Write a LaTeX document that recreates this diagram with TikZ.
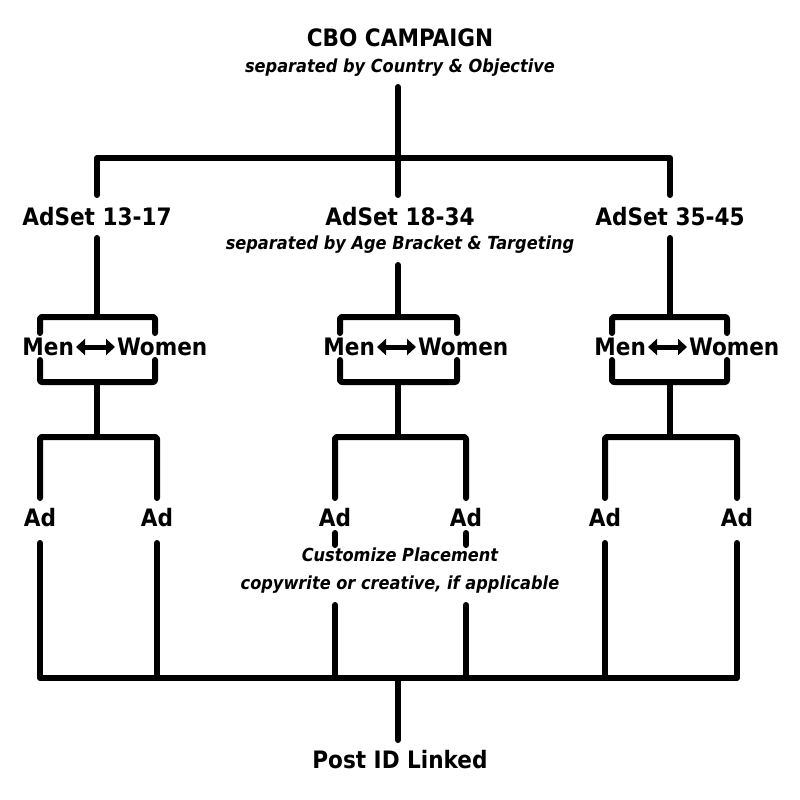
\documentclass[tikz,border=0pt]{standalone}
\usepackage{fontspec}
\setmainfont{DejaVu Sans Condensed}
\usepackage{tikz}
\usetikzlibrary{arrows.meta}

\begin{document}
\begin{tikzpicture}[x=1pt, y=-1pt,
  line width=6pt, line cap=round, line join=round,
  every node/.style={inner sep=2pt, outer sep=0pt},
  head/.style={font=\fontsize{24}{28}\selectfont\bfseries},
  note/.style={font=\fontsize{18}{28}\selectfont\bfseries\itshape, align=center},
  link/.style={line width=6pt},
  swap/.style={{Triangle[length=9pt,width=16pt]}-{Triangle[length=9pt,width=16pt]}, line width=5pt, line cap=butt}]

\useasboundingbox (0,0) rectangle (800,800);

% campaign
\node[head] (campaign) at (400,38) {CBO CAMPAIGN};
\node[note] (campaignsub) at (400,68) {separated by Country \& Objective};

% ad sets
\node[head] (adsetA) at (97,217) {AdSet 13-17};
\node[head] (adsetB) at (400,217) {AdSet 18-34};
\node[head] (adsetC) at (670,217) {AdSet 35-45};
\node[note] (adsetsub) at (400,245) {separated by Age Bracket \& Targeting};

\coordinate (split) at (398,158);
\draw[link] (398,87) -- (split);
\draw[link] (97,195) |- (split) -| (670,195);
\draw[link] (split) -- (398,195);

% men / women
\node[head, anchor=east] (menA) at (76,347) {Men};
\node[head, anchor=west] (womenA) at (115,347) {Women};
\node[head, anchor=east] (menB) at (377,347) {Men};
\node[head, anchor=west] (womenB) at (416,347) {Women};
\node[head, anchor=east] (menC) at (648,347) {Men};
\node[head, anchor=west] (womenC) at (687,347) {Women};

\draw[swap] (menA) -- (womenA);
\draw[swap] (menB) -- (womenB);
\draw[swap] (menC) -- (womenC);

\draw[link] (97,238) -- (97,317);
\draw[link] (398,265) -- (398,317);
\draw[link] (670,238) -- (670,317);

\foreach \l/\r/\c in {40/155/97, 340/457/398, 612/727/670} {
  \draw[link, rounded corners=2pt] (\l,333) -- (\l,317) -- (\r,317) -- (\r,333);
  \draw[link, rounded corners=2pt] (\l,360) -- (\l,382) -- (\r,382) -- (\r,360);
  \draw[link] (\c,382) -- (\c,437);
}

% ads
\node[head] (adA1) at (40,518) {Ad};
\node[head] (adA2) at (157,518) {Ad};
\node[head] (adB1) at (335,518) {Ad};
\node[head] (adB2) at (466,518) {Ad};
\node[head] (adC1) at (605,518) {Ad};
\node[head] (adC2) at (737,518) {Ad};

\draw[link, rounded corners=2pt] (40,498) |- (97,437) -| (157,498);
\draw[link, rounded corners=2pt] (335,498) |- (398,437) -| (466,498);
\draw[link, rounded corners=2pt] (605,498) |- (670,437) -| (737,498);

\node[note] (placement) at (400,571) {Customize Placement\\copywrite or creative, if applicable};

% post id
\coordinate (bus) at (398,678);
\node[head] (postid) at (400,760) {Post ID Linked};

\draw[link] (adA1 |- 0,543) -- (adA1 |- bus);
\draw[link] (adA2 |- 0,543) -- (adA2 |- bus);
\draw[link] (adC1 |- 0,543) -- (adC1 |- bus);
\draw[link] (adC2 |- 0,543) -- (adC2 |- bus);
\draw[link] (adB1 |- 0,533) -- (adB1 |- 0,545);
\draw[link] (adB2 |- 0,533) -- (adB2 |- 0,545);
\draw[link] (adB1 |- 0,605) -- (adB1 |- bus);
\draw[link] (adB2 |- 0,605) -- (adB2 |- bus);
\draw[link, line cap=butt] (40,678) -- (737,678);
\draw[link] (bus) -- (398,740);
\end{tikzpicture}
\end{document}
